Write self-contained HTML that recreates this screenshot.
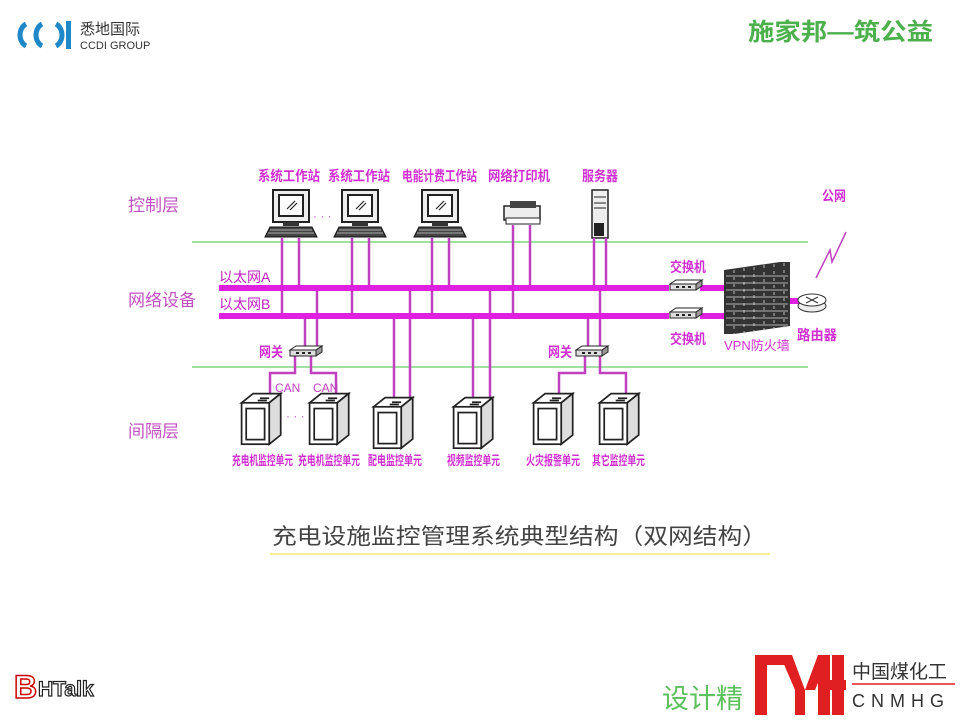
<!DOCTYPE html>
<html><head><meta charset="utf-8"><style>
body{margin:0;background:#fff;}
svg{display:block;font-family:"Liberation Sans","Noto Sans CJK SC",sans-serif;}
</style></head><body>
<svg width="960" height="720" viewBox="0 0 960 720" xmlns="http://www.w3.org/2000/svg">
<defs>
<g id="mon">
<rect x="-18" y="0" width="36" height="32" fill="#eee" stroke="#222" stroke-width="2"/>
<rect x="-12" y="5" width="24" height="21" fill="#fff" stroke="#222" stroke-width="2"/>
<path d="M-4 19 L4 11 M-1 20 L6 13" stroke="#222" stroke-width="1.2"/>
<rect x="-8" y="32" width="16" height="4" fill="#333"/>
<path d="M-26 47 L-21 37 L21 37 L26 47 Z" fill="#444" stroke="#111"/>
<path d="M-21 40 L21 40 M-23 43 L23 43" stroke="#aaa" stroke-width="1"/>
</g>
<g id="unit">
<path d="M-16 -8 L-6 -16 L18 -16 L8 -8 Z" fill="#fff" stroke="#222" stroke-width="1.5"/>
<path d="M8 -8 L18 -16 L18 20 L8 28 Z" fill="#ddd" stroke="#222" stroke-width="1.5"/>
<rect x="-16" y="-8" width="24" height="36" fill="#fff" stroke="#222" stroke-width="1.5"/>
<rect x="-12" y="-3" width="16" height="27" fill="#fff" stroke="#222" stroke-width="1.5"/>
<path d="M0 -12 L8 -12 M-2 -10 L6 -10" stroke="#222" stroke-width="1.5"/>
</g>
<g id="sw">
<path d="M-14 -4 L-8 -8 L18 -8 L12 -4 Z" fill="#fff" stroke="#222"/>
<path d="M-14 -4 L12 -4 L12 2 L-14 2 Z" fill="#ddd" stroke="#222"/>
<path d="M12 -4 L18 -8 L18 -2 L12 2 Z" fill="#999" stroke="#222"/>
<path d="M-8 -1 h3 M-2 -1 h3 M4 -1 h3" stroke="#222" stroke-width="2"/>
</g>
</defs>

<g fill="none" stroke="#1e88c8" stroke-width="5">
<path d="M26 24 A10 12 0 0 0 26 46"/>
<path d="M42 24 A10 12 0 0 0 42 46"/>
<path d="M56 24 A10 12 0 0 1 56 46"/>
</g>
<rect x="66" y="21" width="5" height="28" fill="#1e88c8"/>
<text x="80" y="34" font-size="15" fill="#333">悉地国际</text>
<text x="80" y="49" font-size="11" fill="#333">CCDI GROUP</text>
<text x="748" y="40" font-size="24" font-weight="bold" fill="#4cb04c" textLength="185" lengthAdjust="spacingAndGlyphs">施家邦—筑公益</text>

<line x1="192" y1="242" x2="808" y2="242" stroke="#7ed87e" stroke-width="1.5"/>
<line x1="192" y1="367" x2="808" y2="367" stroke="#7ed87e" stroke-width="1.5"/>
<g font-size="17" fill="#c050c0">
<text x="128" y="211">控制层</text>
<text x="128" y="306">网络设备</text>
<text x="128" y="437">间隔层</text>
</g>

<g font-size="14" font-weight="bold" fill="#d030d0">
<text x="258" y="181" textLength="62" lengthAdjust="spacingAndGlyphs">系统工作站</text>
<text x="328" y="181" textLength="62" lengthAdjust="spacingAndGlyphs">系统工作站</text>
<text x="402" y="181" textLength="75" lengthAdjust="spacingAndGlyphs">电能计费工作站</text>
<text x="488" y="181" textLength="62" lengthAdjust="spacingAndGlyphs">网络打印机</text>
<text x="582" y="181" textLength="36" lengthAdjust="spacingAndGlyphs">服务器</text>
<text x="822" y="201" textLength="24" lengthAdjust="spacingAndGlyphs">公网</text>
</g>
<use href="#mon" x="291" y="190"/>
<use href="#mon" x="360" y="190"/>
<use href="#mon" x="440" y="190"/>
<text x="313" y="220" font-size="12" fill="#c050c0">· · ·</text>
<rect x="504" y="206" width="36" height="14" fill="#eee" stroke="#222" stroke-width="1.5"/>
<rect x="510" y="201" width="26" height="7" fill="#444"/>
<rect x="506" y="218" width="34" height="6" fill="#fff" stroke="#222"/>
<rect x="592" y="190" width="16" height="48" fill="#eee" stroke="#222" stroke-width="1.5"/>
<rect x="594" y="223" width="10" height="13" fill="#222"/>
<path d="M594 197 h12 M594 203 h12 M594 208 h12" stroke="#222"/>

<g stroke="#c040c0" stroke-width="2.5" fill="none">
<line x1="282" y1="238" x2="282" y2="316"/><line x1="299" y1="238" x2="299" y2="288"/>
<line x1="352" y1="238" x2="352" y2="316"/><line x1="369" y1="238" x2="369" y2="288"/>
<line x1="432" y1="238" x2="432" y2="316"/><line x1="449" y1="238" x2="449" y2="288"/>
<line x1="513" y1="225" x2="513" y2="316"/><line x1="530" y1="225" x2="530" y2="288"/>
<line x1="594" y1="238" x2="594" y2="288"/><line x1="606" y1="238" x2="606" y2="288"/>
<line x1="305" y1="316" x2="305" y2="350"/><line x1="317" y1="288" x2="317" y2="350"/>
<line x1="394" y1="316" x2="394" y2="400"/><line x1="410" y1="288" x2="410" y2="405"/>
<line x1="473" y1="316" x2="473" y2="400"/><line x1="490" y1="288" x2="490" y2="405"/>
<line x1="588" y1="316" x2="588" y2="350"/><line x1="600" y1="288" x2="600" y2="350"/>
<path d="M295 356 V373 H270 V398"/><path d="M311 356 V373 H336 V398"/>
<path d="M585 356 V373 H559 V398"/><path d="M600 356 V373 H626 V398"/>
</g>

<rect x="219" y="285" width="450" height="6" fill="#e020e0"/>
<rect x="219" y="313" width="450" height="6" fill="#e020e0"/>
<rect x="700" y="285" width="26" height="6" fill="#e020e0"/>
<rect x="700" y="313" width="26" height="6" fill="#e020e0"/>
<rect x="788" y="298" width="20" height="6" fill="#e020e0"/>
<g font-size="14" fill="#c020c0">
<text x="219" y="282">以太网A</text>
<text x="219" y="309">以太网B</text>
</g>

<use href="#sw" x="304" y="354"/>
<use href="#sw" x="590" y="354"/>
<g font-size="14" font-weight="bold" fill="#d030d0">
<text x="259" y="357" textLength="24" lengthAdjust="spacingAndGlyphs">网关</text>
<text x="548" y="357" textLength="24" lengthAdjust="spacingAndGlyphs">网关</text>
<text x="670" y="272" textLength="36" lengthAdjust="spacingAndGlyphs">交换机</text>
<text x="670" y="344" textLength="36" lengthAdjust="spacingAndGlyphs">交换机</text>
<text x="724" y="350" font-weight="normal" font-size="13">VPN防火墙</text>
<text x="797" y="340" textLength="40" lengthAdjust="spacingAndGlyphs">路由器</text>
</g>
<use href="#sw" x="684" y="288"/>
<use href="#sw" x="684" y="316"/>

<path d="M724 270 L780 262 L790 262 L790 326 L734 334 L724 334 Z" fill="#333"/>
<g stroke="#ddd" stroke-width="0.8">
<path d="M726 276 H788 M726 283 H788 M726 290 H788 M726 297 H788 M726 304 H788 M726 311 H788 M726 318 H788 M726 325 H788"/>
<path d="M734 270 V334 M744 268 V334 M754 267 V332 M764 265 V331 M774 264 V330 M784 263 V328" stroke-dasharray="3 4"/>
</g>
<ellipse cx="812" cy="306" rx="14" ry="6" fill="#eee" stroke="#333"/>
<ellipse cx="812" cy="300" rx="14" ry="6" fill="#fff" stroke="#333"/>
<path d="M806 297 L818 303 M818 297 L806 303" stroke="#333"/>
<path d="M816 278 L830 250 L832 262 L846 232" fill="none" stroke="#c040c0" stroke-width="1.5"/>

<use href="#unit" transform="translate(260,412) scale(1.15)"/>
<use href="#unit" transform="translate(328,412) scale(1.15)"/>
<use href="#unit" transform="translate(392,416) scale(1.15)"/>
<use href="#unit" transform="translate(472,416) scale(1.15)"/>
<use href="#unit" transform="translate(552,412) scale(1.15)"/>
<use href="#unit" transform="translate(618,412) scale(1.15)"/>
<text x="286" y="420" font-size="12" fill="#c050c0">· · ·</text>
<g font-size="12" fill="#c040c0">
<text x="275" y="392">CAN</text>
<text x="313" y="392">CAN</text>
</g>
<g font-size="13" font-weight="bold" fill="#d030d0">
<text x="232" y="465" textLength="61" lengthAdjust="spacingAndGlyphs">充电机监控单元</text>
<text x="298" y="465" textLength="62" lengthAdjust="spacingAndGlyphs">充电机监控单元</text>
<text x="368" y="465" textLength="54" lengthAdjust="spacingAndGlyphs">配电监控单元</text>
<text x="447" y="465" textLength="53" lengthAdjust="spacingAndGlyphs">视频监控单元</text>
<text x="526" y="465" textLength="54" lengthAdjust="spacingAndGlyphs">火灾报警单元</text>
<text x="592" y="465" textLength="53" lengthAdjust="spacingAndGlyphs">其它监控单元</text>
</g>

<text x="272" y="544" font-size="22" fill="#444" textLength="495" lengthAdjust="spacingAndGlyphs">充电设施监控管理系统典型结构（双网结构）</text>
<line x1="270" y1="554" x2="770" y2="554" stroke="#f4ee9a" stroke-width="2"/>

<text x="14" y="698" font-size="32" font-weight="bold" fill="#fff" stroke="#c00" stroke-width="1.5">B</text>
<text x="38" y="696" font-size="21" font-weight="bold" fill="#fff" stroke="#222" stroke-width="1.2">HTalk</text>
<text x="662" y="708" font-size="27" fill="#5cc05c">设计精</text>
<g fill="#e02020">
<rect x="755" y="655" width="12" height="60"/><rect x="755" y="655" width="32" height="10"/>
<path d="M780 655 L792 655 L805 690 L805 715 L795 715 L795 690 Z"/>
<path d="M830 655 L818 655 L805 690 L815 690 Z"/>
<rect x="818" y="655" width="12" height="60"/><rect x="818" y="680" width="28" height="10"/>
<rect x="832" y="655" width="12" height="60"/>
</g>
<text x="852" y="678" font-size="19" fill="#333">中国煤化工</text>
<line x1="852" y1="684" x2="955" y2="684" stroke="#e02020" stroke-width="1.5"/>
<text x="852" y="707" font-size="18" fill="#333" letter-spacing="6">CNMHG</text>
</svg>
</body></html>
